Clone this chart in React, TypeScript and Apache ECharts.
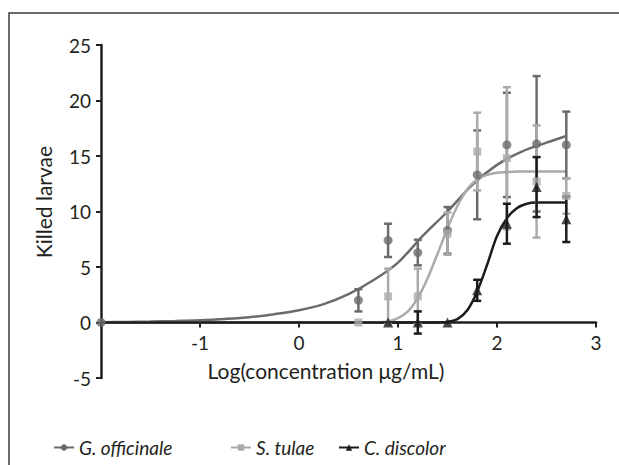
import React, { useEffect, useRef } from "react";
import * as echarts from "echarts";

// ---- data ----
const seriesNames = ["G. officinale", "S. tulae", "C. discolor"];
const xTicks = [-1, 0, 1, 2, 3];

// measured points (mean, +/- error)
const gX = [-2, 0.6, 0.9, 1.2, 1.5, 1.8, 2.1, 2.4, 2.7];
const gY = [0, 2.0, 7.4, 6.3, 8.3, 13.3, 16.0, 16.1, 16.0];
const gErr = [0, 1.0, 1.5, 1.15, 2.1, 4.0, 4.7, 6.1, 3.0];

const sX = [0.6, 0.9, 1.2, 1.5, 1.8, 2.1, 2.4, 2.7];
const sY = [0, 2.35, 2.35, 8.0, 15.4, 14.8, 12.7, 11.4];
const sErr = [0, 2.5, 2.5, 1.9, 3.5, 6.4, 5.05, 1.6];

const cX = [0.9, 1.2, 1.5, 1.8, 2.1, 2.4, 2.7];
const cY = [0, 0, 0, 2.9, 8.9, 12.2, 9.3];
const cErr = [0, 1.0, 0, 0.95, 1.8, 2.7, 2.05];

// fitted curves
const gCurveX = [-2, -1.75, -1.5, -1.25, -1, -0.75, -0.5, -0.25, 0, 0.25, 0.5, 0.75, 1.0, 1.25, 1.5, 1.75, 2.0, 2.25, 2.5, 2.7];
const gCurveY = [0.02, 0.05, 0.08, 0.13, 0.2, 0.32, 0.48, 0.75, 1.1, 1.65, 2.55, 3.8, 5.4, 7.8, 10.0, 12.4, 14.2, 15.4, 16.2, 16.8];

const sCurveX = [-2, -1, 0, 0.5, 0.8, 0.9, 1.0, 1.1, 1.2, 1.3, 1.4, 1.5, 1.6, 1.7, 1.8, 1.9, 2.0, 2.1, 2.2, 2.45, 2.7];
const sCurveY = [0, 0, 0, 0, 0.02, 0.1, 0.4, 1.0, 2.2, 4.0, 6.2, 8.5, 10.5, 12.0, 12.9, 13.3, 13.5, 13.55, 13.6, 13.6, 13.6];

const cCurveX = [-2, -1, 0, 1.0, 1.3, 1.4, 1.5, 1.6, 1.7, 1.8, 1.9, 2.0, 2.1, 2.2, 2.3, 2.4, 2.5, 2.7];
const cCurveY = [0, 0, 0, 0, 0, 0.01, 0.05, 0.3, 1.1, 2.8, 5.2, 7.8, 9.4, 10.3, 10.7, 10.8, 10.8, 10.8];

const colors = ["#6b6b6b", "#aaaaaa", "#1c1c1c"];
const symbols = ["circle", "rect", "triangle"];
const symbolSizes = [9, 8, 10];

const FONT = "Lato, 'Open Sans', sans-serif";
const INK = "#231f20";

function zip(xs: number[], ys: number[]) {
  return xs.map((x, i) => [x, ys[i]]);
}

function errData(xs: number[], ys: number[], es: number[]) {
  return xs
    .map((x, i) => [x, ys[i] - es[i], ys[i] + es[i], es[i]])
    .filter((d) => d[3] > 0);
}

function makeErrSeries(name: string, data: number[][], color: string) {
  return {
    name,
    type: "custom",
    data,
    encode: { x: 0, y: [1, 2] },
    z: 3,
    renderItem: (params: any, api: any) => {
      const x = api.value(0);
      const lo = api.coord([x, api.value(1)]);
      const hi = api.coord([x, api.value(2)]);
      const hw = 4;
      const style = { stroke: color, lineWidth: 2.5 };
      return {
        type: "group",
        children: [
          { type: "line", shape: { x1: lo[0], y1: lo[1], x2: hi[0], y2: hi[1] }, style },
          { type: "line", shape: { x1: lo[0] - hw, y1: lo[1], x2: lo[0] + hw, y2: lo[1] }, style },
          { type: "line", shape: { x1: hi[0] - hw, y1: hi[1], x2: hi[0] + hw, y2: hi[1] }, style },
        ],
      };
    },
  };
}

export default function App() {
  const ref = useRef<HTMLDivElement>(null);
  useEffect(() => {
    if (!ref.current) return;
    const chart = echarts.init(ref.current, null, { renderer: "svg" });
    const sets = [
      { x: gX, y: gY, e: gErr, cx: gCurveX, cy: gCurveY },
      { x: sX, y: sY, e: sErr, cx: sCurveX, cy: sCurveY },
      { x: cX, y: cY, e: cErr, cx: cCurveX, cy: cCurveY },
    ];
    const series: any[] = [];
    sets.forEach((s, i) => {
      series.push({
        name: seriesNames[i],
        type: "line",
        data: zip(s.cx, s.cy),
        smooth: 0.3,
        symbol: symbols[i],
        symbolSize: symbolSizes[i],
        showSymbol: false,
        lineStyle: { color: colors[i], width: 2.5 },
        itemStyle: { color: colors[i] },
        z: 2,
      });
      series.push(makeErrSeries(seriesNames[i] + " err", errData(s.x, s.y, s.e), colors[i]));
      series.push({
        name: seriesNames[i] + " pts",
        type: "scatter",
        data: zip(s.x, s.y),
        symbol: symbols[i],
        symbolSize: symbolSizes[i],
        itemStyle: { color: colors[i] },
        z: 4,
      });
    });

    const legendLefts = [48, 225, 333];
    chart.setOption({
      animation: false,
      grid: { left: 101, right: 23, top: 45, bottom: 87, containLabel: false },
      xAxis: [
        {
          type: "value",
          min: -2,
          max: 3,
          interval: 1,
          axisLine: { show: true, onZero: true, lineStyle: { color: INK, width: 2.5 } },
          axisTick: { show: true, length: 5, lineStyle: { color: INK, width: 2 } },
          axisLabel: { show: false },
          splitLine: { show: false },
          z: 1,
        },
        {
          // label-only axis, lifted to sit under the zero line
          type: "value",
          min: -2,
          max: 3,
          interval: 1,
          position: "bottom",
          offset: -56,
          axisLine: { show: false, onZero: false },
          axisTick: { show: false },
          axisLabel: {
            margin: 11,
            color: INK,
            fontSize: 19,
            fontFamily: FONT,
            formatter: (v: number) => (xTicks.indexOf(v) >= 0 ? String(v) : ""),
          },
          splitLine: { show: false },
        },
      ],
      yAxis: {
        type: "value",
        min: -5,
        max: 25,
        interval: 5,
        axisLine: { show: true, onZero: false, lineStyle: { color: INK, width: 2.5 } },
        axisTick: { show: true, length: 5, lineStyle: { color: INK, width: 2 } },
        axisLabel: { margin: 10, color: INK, fontSize: 19, fontFamily: FONT },
        splitLine: { show: false },
      },
      legend: seriesNames.map((n, i) => ({
        data: [n],
        left: legendLefts[i],
        top: 433,
        itemWidth: 20,
        itemHeight: 8,
        itemGap: 10,
        textStyle: { fontStyle: "italic", fontSize: 19, fontFamily: FONT, color: INK },
        selectedMode: false,
      })),
      graphic: [
        {
          type: "rect",
          shape: { x: 9, y: 13, width: 900, height: 900 },
          style: { fill: "none", stroke: "#3a3a3a", lineWidth: 1.5 },
          silent: true,
        },
        {
          type: "text",
          x: 43,
          y: 202,
          rotation: Math.PI / 2,
          style: {
            text: "Killed larvae",
            fontSize: 21,
            fontFamily: FONT,
            fill: INK,
            align: "center",
            verticalAlign: "middle",
          },
        },
        {
          type: "text",
          x: 326,
          y: 370,
          style: {
            text: "Log(concentration μg/mL)",
            fontSize: 21,
            fontFamily: FONT,
            fill: INK,
            align: "center",
            verticalAlign: "middle",
          },
        },
      ],
      series,
    });
    return () => chart.dispose();
  }, []);
  return (
    <div
      ref={ref}
      style={{ position: "fixed", left: 0, top: 0, width: 619, height: 465, background: "#fff" }}
    />
  );
}
